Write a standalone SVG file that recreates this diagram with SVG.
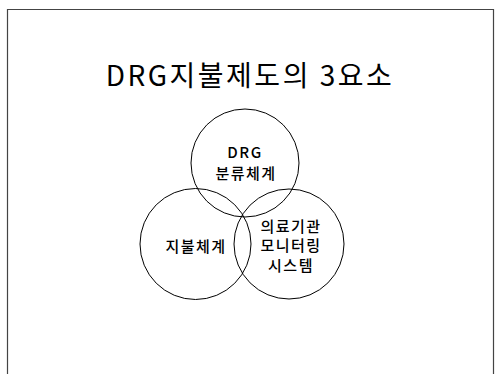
<svg xmlns="http://www.w3.org/2000/svg" width="495" height="374" viewBox="0 0 495 374">
<style>
.t{font-family:"Noto Sans CJK KR","Liberation Sans",sans-serif;fill:#000;text-anchor:middle}
.s{font-size:15px;letter-spacing:1.5px;font-weight:500}
.c{fill:none;stroke:#000;stroke-width:1}
</style>
<rect width="495" height="374" fill="#fff"/>
<path d="M7.5,374 V9.5 H493.5 V374" fill="none" stroke="#444" stroke-width="1.2"/>
<text class="t" x="250" y="86" font-size="28" letter-spacing="2.5">DRG지불제도의 3요소</text>
<g id="connectors"/>
<g id="drg">
<circle class="c" cx="245" cy="163" r="54"/>
<text class="t s" x="245" y="158" letter-spacing="1">DRG</text>
<text class="t s" x="246" y="179">분류체계</text>
</g>
<g id="payment">
<circle class="c" cx="195.5" cy="244" r="55.5"/>
<text class="t s" x="196" y="252">지불체계</text>
</g>
<g id="monitor">
<circle class="c" cx="289" cy="244" r="55"/>
<text class="t s" x="291" y="232">의료기관</text>
<text class="t s" x="291" y="251">모니터링</text>
<text class="t s" x="291" y="271">시스템</text>
</g>
</svg>
